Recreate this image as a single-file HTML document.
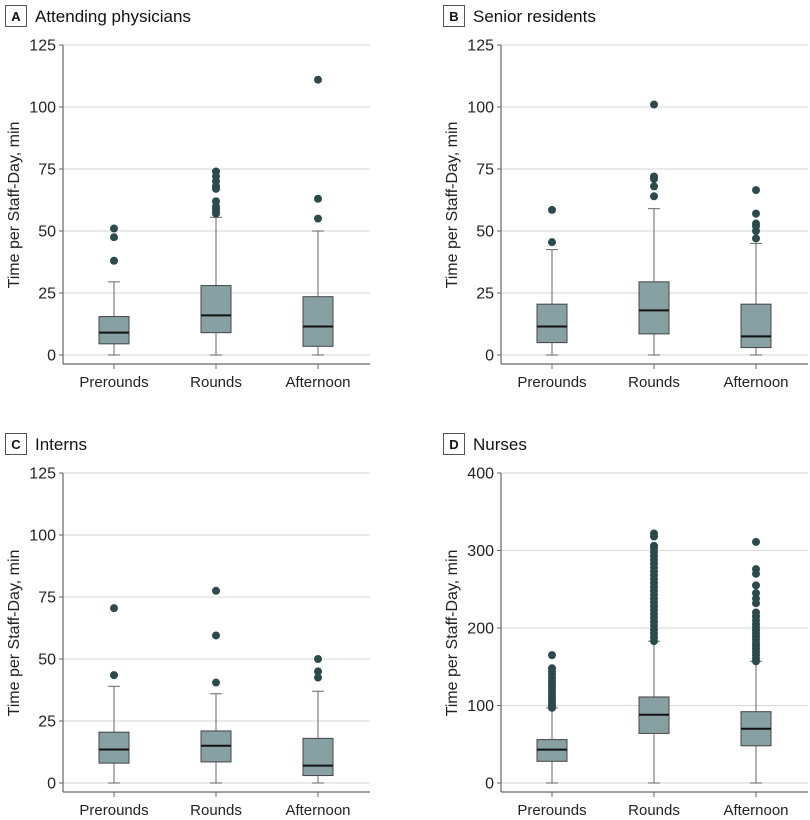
<!DOCTYPE html>
<html><head><meta charset="utf-8"><style>
body{margin:0;background:#fff;}
svg{display:block;font-family:"Liberation Sans",sans-serif;}
</style></head><body>
<svg id="chart" width="810" height="820"></svg>
<script>
const categories=["Prerounds","Rounds","Afternoon"];
const panelTitles=["Attending physicians","Senior residents","Interns","Nurses"];
const panelLetters=["A","B","C","D"];
const yTicksSmall=[0,25,50,75,100,125];
const yTicksNurse=[0,100,200,300,400];
// [min,q1,median,q3,max]
const statsA=[[0,4.5,9,15.5,29.5],[0,9,16,28,55.5],[0,3.5,11.5,23.5,50]];
const statsB=[[0,5,11.5,20.5,42.5],[0,8.5,18,29.5,59],[0,3,7.5,20.5,45]];
const statsC=[[0,8,13.5,20.5,39],[0,8.5,15,21,36],[0,3,7,18,37]];
const statsD=[[0,28,43,56,97],[0,64,88,111,183],[0,48,70,92,157]];
const outA=[[38,47.5,51],[57,58,59,60,62,67,68,70,72,74],[55,63,111]];
const outB=[[45.5,58.5],[64,68,71,72,101],[47,50,52,53,57,66.5]];
const outC=[[43.5,70.5],[40.5,59.5,77.5],[42.5,45,50]];
const outD=[[97,100,104,108,112,116,120,124,128,132,136,140,144,148,165],
[183,188,193,198,203,208,213,218,223,228,233,238,243,248,253,258,263,268,273,278,283,288,293,298,303,306,318,322],
[157,161,165,169,173,177,181,185,189,193,197,201,205,210,215,220,232,238,245,255,270,276,311]];
const NS="http://www.w3.org/2000/svg";
const svg=document.getElementById('chart');
function mk(t,a,p){const e=document.createElementNS(NS,t);for(const k in a)e.setAttribute(k,a[k]);(p||svg).appendChild(e);return e;}
const panels=[
 {ox:0,oy:0,stats:statsA,outs:outA,ticks:yTicksSmall,ymax:125},
 {ox:438,oy:0,stats:statsB,outs:outB,ticks:yTicksSmall,ymax:125},
 {ox:0,oy:428,stats:statsC,outs:outC,ticks:yTicksSmall,ymax:125},
 {ox:438,oy:428,stats:statsD,outs:outD,ticks:yTicksNurse,ymax:400}];
panels.forEach((p,i)=>{
 const g=mk('g',{transform:`translate(${p.ox},${p.oy})`});
 
 
 const ax0=63,ax1=370,yTop=45,yBot=355,axisY=364;
 const y=v=>yBot-(v/p.ymax)*(yBot-yTop);
 const x=j=>114+j*102;
 const lb=mk('rect',{x:5.5,y:5.5,width:21,height:21,fill:'#fff',stroke:'#555','stroke-width':1},g);
 
 const lt=mk('text',{x:16,y:21,'text-anchor':'middle','font-size':13,'font-weight':'bold',fill:'#111'},g);lt.textContent=panelLetters[i];
 
 const tt=mk('text',{x:35,y:22,'font-size':17,fill:'#111'},g);tt.textContent=panelTitles[i];
 
 p.ticks.forEach(t=>{
  const gl=mk('line',{x1:ax0,x2:ax1,y1:y(t),y2:y(t),stroke:'#d6d6d6','stroke-width':1},g);
  
  mk('line',{x1:ax0-4,x2:ax0,y1:y(t),y2:y(t),stroke:'#666'},g);
  const tl=mk('text',{x:ax0-7,y:y(t)+5.5,'text-anchor':'end','font-size':16,fill:'#222'},g);tl.textContent=t;
  
 });
 const ya=mk('line',{x1:ax0,x2:ax0,y1:yTop,y2:axisY,stroke:'#666','stroke-width':1.2},g);
 
 const xa=mk('line',{x1:ax0,x2:ax1,y1:axisY,y2:axisY,stroke:'#666','stroke-width':1.2},g);
 
 const yt=mk('text',{x:0,y:0,transform:`translate(19,${(yTop+yBot)/2+5}) rotate(-90)`,'text-anchor':'middle','font-size':16,fill:'#222'},g);
 yt.textContent='Time per Staff-Day, min';
 
 categories.forEach((c,j)=>{
  const cx=x(j),s=p.stats[j];
  mk('line',{x1:cx,x2:cx,y1:axisY,y2:axisY+5,stroke:'#666'},g);
  const cl=mk('text',{x:cx,y:axisY+23,'text-anchor':'middle','font-size':15,fill:'#222'},g);cl.textContent=c;
  
  const bg=mk('g',{},g);
  
  mk('line',{x1:cx,x2:cx,y1:y(s[0]),y2:y(s[1]),stroke:'#666'},bg);
  mk('line',{x1:cx,x2:cx,y1:y(s[3]),y2:y(s[4]),stroke:'#666'},bg);
  mk('line',{x1:cx-6,x2:cx+6,y1:y(s[0]),y2:y(s[0]),stroke:'#666'},bg);
  mk('line',{x1:cx-6,x2:cx+6,y1:y(s[4]),y2:y(s[4]),stroke:'#666'},bg);
  mk('rect',{x:cx-15,y:y(s[3]),width:30,height:y(s[1])-y(s[3]),fill:'#87a0a3',stroke:'#444','stroke-width':1},bg);
  mk('line',{x1:cx-15,x2:cx+15,y1:y(s[2]),y2:y(s[2]),stroke:'#111','stroke-width':2},bg);
  p.outs[j].forEach(v=>{
   const d=mk('circle',{cx:cx,cy:y(v),r:4,fill:'#2c4a4e'},bg);
   
  });
 });
});
</script>
</body></html>
